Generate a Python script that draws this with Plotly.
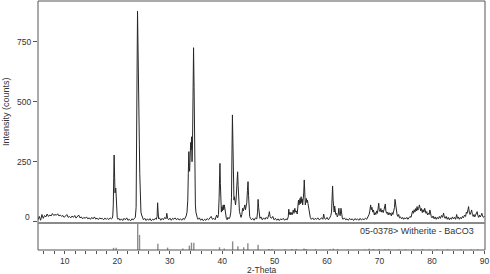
import plotly.graph_objects as go

scan_points = [
    (4.9, 8), (5.15, 22), (5.4, 6), (5.65, 30), (5.9, 14), (6.15, 26), (6.4, 20), (6.65, 32),
    (6.9, 22), (7.15, 28), (7.4, 24), (7.65, 34), (7.9, 26), (8.15, 30), (8.4, 27), (8.65, 33),
    (8.9, 24), (9.15, 28), (9.4, 22), (9.65, 26), (9.9, 18), (10.15, 24), (10.4, 30), (10.65, 18),
    (10.9, 22), (11.15, 16), (11.4, 24), (11.65, 18), (11.9, 26), (12.15, 15), (12.4, 22), (12.65, 28),
    (12.9, 16), (13.15, 20), (13.4, 12), (13.65, 18), (13.9, 14), (14.15, 20), (14.4, 12), (14.65, 16),
    (14.9, 10), (15.15, 18), (15.4, 12), (15.65, 20), (15.9, 11), (16.15, 15), (16.4, 9), (16.65, 16),
    (16.9, 12), (17.15, 14), (17.4, 8), (17.65, 15), (17.9, 10), (18.15, 14), (18.4, 9), (18.65, 16),
    (18.9, 12),
    (19.05, 14), (19.15, 24), (19.25, 70), (19.33, 180), (19.41, 278), (19.5, 190), (19.58, 120),
    (19.66, 135), (19.73, 140), (19.8, 95), (19.9, 40), (20.0, 18), (20.15, 10),
    (20.3, 14), (20.55, 6), (20.8, 12), (21.05, 5), (21.3, 14), (21.55, 8), (21.8, 16), (22.05, 6),
    (22.3, 10), (22.55, 4), (22.8, 12), (23.05, 8), (23.3, 14),
    (23.45, 18), (23.6, 60), (23.7, 240), (23.78, 620), (23.87, 878), (23.95, 700), (24.05, 420),
    (24.15, 330), (24.22, 320), (24.3, 200), (24.4, 90), (24.52, 40), (24.65, 28), (24.8, 20),
    (25.0, 8), (25.25, 14), (25.5, 5), (25.75, 12), (26.0, 6), (26.25, 13), (26.5, 4), (26.75, 10),
    (27.0, 7), (27.25, 14), (27.45, 10),
    (27.6, 22), (27.7, 79), (27.8, 40), (27.9, 12),
    (28.05, 16), (28.3, 6), (28.55, 14), (28.8, 8), (29.05, 18), (29.3, 12), (29.45, 35), (29.6, 14),
    (29.8, 8), (30.05, 15), (30.3, 6), (30.55, 14), (30.8, 10), (31.05, 16), (31.3, 8), (31.55, 14),
    (31.8, 7), (32.05, 12), (32.3, 6), (32.55, 14), (32.8, 9), (33.0, 16), (33.15, 24),
    (33.3, 40), (33.45, 90), (33.55, 200), (33.65, 292), (33.72, 230), (33.8, 210), (33.9, 290),
    (34.0, 330), (34.1, 300), (34.18, 354), (34.26, 250), (34.35, 320), (34.45, 520), (34.55, 725),
    (34.65, 560), (34.75, 300), (34.82, 90), (34.9, 70), (35.0, 40), (35.1, 28), (35.25, 18),
    (35.4, 10), (35.65, 16), (35.9, 6), (36.15, 12), (36.4, 4), (36.65, 10), (36.9, 6), (37.15, 13),
    (37.4, 8), (37.65, 16), (37.9, 22), (38.15, 10), (38.4, 14), (38.65, 8), (38.95, 28), (39.15, 16),
    (39.3, 30),
    (39.42, 100), (39.5, 200), (39.58, 243), (39.66, 160), (39.75, 70), (39.85, 40), (39.95, 62),
    (40.05, 45), (40.2, 70), (40.3, 50), (40.42, 70), (40.55, 49), (40.65, 30), (40.8, 14),
    (40.95, 8), (41.1, 18), (41.3, 12), (41.5, 20), (41.65, 40),
    (41.78, 100), (41.88, 300), (41.96, 445), (42.05, 330), (42.15, 130), (42.25, 90), (42.35, 104),
    (42.45, 80), (42.55, 70), (42.65, 90), (42.75, 130), (42.85, 200), (42.95, 208), (43.05, 150),
    (43.15, 70), (43.3, 42), (43.45, 30), (43.6, 18), (43.75, 30),
    (43.9, 56), (44.05, 45), (44.2, 62), (44.32, 70), (44.45, 50), (44.58, 62), (44.7, 80),
    (44.82, 130), (44.93, 167), (45.03, 110), (45.13, 40), (45.25, 22), (45.4, 14),
    (45.6, 8), (45.85, 14), (46.1, 6), (46.35, 16), (46.6, 12), (46.75, 40), (46.85, 93), (46.95, 60),
    (47.05, 25), (47.2, 14), (47.4, 20), (47.65, 8), (47.9, 16), (48.15, 10), (48.4, 18), (48.65, 12),
    (48.9, 30), (49.0, 42), (49.15, 20), (49.4, 14), (49.65, 22), (49.9, 8), (50.15, 14), (50.4, 6),
    (50.65, 12), (50.9, 5), (51.15, 12), (51.4, 8), (51.65, 14), (51.9, 6), (52.15, 12), (52.4, 8),
    (52.6, 20),
    (52.7, 52), (52.8, 30), (52.95, 40), (53.1, 28), (53.25, 38), (53.4, 30), (53.55, 49), (53.7, 35),
    (53.85, 56), (54.0, 40), (54.15, 45), (54.3, 32), (54.45, 60), (54.55, 90), (54.65, 70),
    (54.75, 85), (54.85, 97), (54.95, 75), (55.05, 104), (55.15, 80), (55.25, 95), (55.35, 70),
    (55.45, 90), (55.55, 120), (55.65, 174), (55.75, 110), (55.85, 70), (55.95, 85), (56.05, 97),
    (56.15, 80), (56.25, 90), (56.35, 77), (56.5, 50), (56.65, 28), (56.8, 18),
    (57.0, 10), (57.25, 16), (57.5, 8), (57.75, 14), (58.0, 10), (58.25, 16), (58.5, 8), (58.75, 12),
    (59.0, 16), (59.2, 10), (59.35, 32), (59.5, 14), (59.75, 10), (60.0, 18), (60.25, 8), (60.45, 14),
    (60.7, 25), (60.85, 40), (60.95, 110), (61.05, 149), (61.15, 90), (61.25, 50), (61.35, 40),
    (61.45, 65), (61.55, 45), (61.65, 30), (61.8, 35), (61.95, 20), (62.1, 28), (62.25, 56),
    (62.35, 30), (62.5, 25), (62.65, 56), (62.75, 35), (62.9, 16), (63.05, 10),
    (63.3, 16), (63.55, 8), (63.8, 12), (64.05, 6), (64.3, 14), (64.55, 8), (64.8, 12), (65.05, 5),
    (65.3, 13), (65.55, 8), (65.8, 12), (66.05, 6), (66.3, 14), (66.55, 7), (66.8, 12), (67.05, 8),
    (67.3, 15), (67.55, 10), (67.8, 20), (68.0, 30), (68.15, 45), (68.3, 70), (68.42, 50), (68.55, 60),
    (68.7, 40), (68.85, 49), (69.0, 28), (69.15, 38), (69.3, 30), (69.45, 45), (69.6, 35), (69.75, 60),
    (69.85, 77), (69.95, 50), (70.1, 42), (70.25, 55), (70.4, 40), (70.55, 48), (70.7, 38), (70.85, 50),
    (71.0, 60), (71.1, 74), (71.2, 45), (71.35, 35), (71.5, 40), (71.65, 28), (71.8, 38), (71.95, 30),
    (72.1, 35), (72.25, 24), (72.4, 38), (72.55, 30), (72.7, 45), (72.85, 60), (72.95, 93), (73.05, 70),
    (73.2, 40), (73.35, 28), (73.5, 22), (73.65, 30), (73.8, 16), (74.0, 20), (74.2, 12), (74.4, 18),
    (74.6, 10), (74.8, 16), (75.0, 12), (75.2, 18), (75.4, 10), (75.6, 16), (75.8, 22), (76.0, 18),
    (76.15, 30), (76.3, 45), (76.45, 35), (76.6, 50), (76.75, 40), (76.9, 55), (77.05, 45), (77.15, 63),
    (77.3, 48), (77.45, 55), (77.6, 70), (77.7, 50), (77.85, 45), (78.0, 55), (78.15, 38), (78.3, 50),
    (78.45, 40), (78.6, 56), (78.72, 42), (78.85, 35), (79.0, 42), (79.15, 28), (79.3, 35), (79.45, 30),
    (79.6, 49), (79.7, 30), (79.85, 22), (80.0, 16), (80.2, 24), (80.4, 12), (80.6, 20), (80.8, 10),
    (81.0, 18), (81.2, 12), (81.4, 22), (81.6, 14), (81.8, 26), (82.0, 18), (82.2, 36), (82.35, 20),
    (82.5, 14), (82.7, 22), (82.9, 10), (83.1, 18), (83.3, 8), (83.5, 16), (83.7, 10), (83.9, 20),
    (84.1, 12), (84.3, 18), (84.5, 10), (84.7, 30), (84.85, 14), (85.0, 20), (85.2, 10), (85.4, 18),
    (85.6, 12), (85.8, 22), (86.0, 16), (86.2, 28), (86.4, 22), (86.55, 40), (86.7, 35), (86.85, 50),
    (86.97, 63), (87.1, 40), (87.25, 30), (87.4, 38), (87.55, 49), (87.7, 30), (87.85, 22), (88.0, 30),
    (88.15, 20), (88.3, 28), (88.45, 35), (88.6, 42), (88.75, 25), (88.9, 18), (89.05, 28), (89.2, 20),
    (89.35, 26), (89.5, 35), (89.65, 22), (89.8, 18), (90.0, 24),
]
two_theta = [p[0] for p in scan_points]
counts = [p[1] for p in scan_points]

# ---- reference stick pattern 05-0378 Witherite (relative intensity) ----
stick_two_theta = [19.3, 19.8, 23.9, 24.25, 27.75, 29.6, 32.5, 33.75, 34.15, 34.6, 39.5, 40.4,
                   42.0, 43.0, 44.1, 44.9, 46.85, 48.9, 49.5, 52.0, 53.3, 54.1, 55.6, 56.0,
                   57.8, 60.6, 61.2, 62.0, 64.0, 67.2, 68.0, 68.8, 69.9, 71.0, 71.7, 73.7,
                   75.0, 76.4, 78.2, 79.5, 81.0, 83.0, 85.5, 87.5, 88.7]
stick_intensity = [8, 8, 100, 56, 23, 9, 6, 16, 27, 27, 10, 6,
                   32, 14, 10, 25, 19, 4, 3, 3, 4, 4, 6, 4,
                   3, 3, 5, 3, 2, 2, 5, 4, 4, 3, 3, 2,
                   2, 3, 3, 2, 2, 2, 2, 2, 2]

y_tick_values = [0, 250, 500, 750]
y_tick_text = ["", "250", "500", "750"]
phase_label = "05-0378> Witherite - BaCO3"
x_title = "2-Theta"
y_title = "Intensity (counts)"

font_family = "Liberation Sans, Arial, sans-serif"
text_color = "#333333"
frame_color = "#555555"
split = 0.1084

stick_x, stick_y = [], []
for t, h in zip(stick_two_theta, stick_intensity):
    stick_x += [t, t, None]
    stick_y += [0, h, None]

fig = go.Figure()
fig.add_trace(go.Scatter(x=two_theta, y=counts, mode="lines",
                         line=dict(color="#262626", width=1.0),
                         xaxis="x2", yaxis="y", hoverinfo="skip", showlegend=False))
fig.add_trace(go.Scatter(x=stick_x, y=stick_y, mode="lines",
                         line=dict(color="#8c8c8c", width=1.4),
                         xaxis="x", yaxis="y2", hoverinfo="skip", showlegend=False))

fig.update_layout(
    width=490, height=274,
    margin=dict(l=38, r=5, t=1, b=24, autoexpand=False),
    paper_bgcolor="white", plot_bgcolor="white",
    font=dict(family=font_family, size=8.5, color=text_color),
    xaxis=dict(domain=[0, 1], anchor="y2", range=[4.9, 90.1], automargin=False,
               tickmode="linear", tick0=10, dtick=10, ticklabeloverflow="allow",
               ticks="outside", ticklen=3, tickcolor=frame_color, tickwidth=1,
               minor=dict(tick0=0, dtick=2, ticks="outside", ticklen=3, tickcolor=frame_color),
               showgrid=False, zeroline=False, showline=False,
               tickfont=dict(size=8.5, color=text_color)),
    xaxis2=dict(domain=[0, 1], anchor="y", matches="x", showticklabels=False, automargin=False,
                ticks="", showgrid=False, zeroline=False, showline=False),
    yaxis=dict(domain=[split, 1], anchor="x2", range=[-5.4, 919.6], automargin=False,
               tickmode="array", tickvals=y_tick_values, ticktext=y_tick_text,
               ticks="outside", ticklen=4, tickcolor=frame_color,
               showgrid=False, zeroline=False, showline=False,
               tickfont=dict(size=8.5, color=text_color)),
    yaxis2=dict(domain=[0, split], anchor="x", range=[0, 100], automargin=False,
                showticklabels=False, ticks="", showgrid=False, zeroline=False, showline=False),
    shapes=[
        dict(type="rect", xref="paper", yref="paper", x0=0, x1=1, y0=0, y1=1,
             line=dict(color=frame_color, width=1), layer="above"),
        dict(type="line", xref="paper", yref="paper", x0=0, x1=1, y0=split, y1=split,
             line=dict(color="#8a8a8a", width=2), layer="above"),
    ],
    annotations=[
        dict(text=phase_label, xref="paper", yref="paper", x=0.98, y=0.0763,
             xanchor="right", yanchor="middle", showarrow=False,
             font=dict(size=9, color=text_color)),
        dict(text="0", xref="paper", yref="paper", x=0, y=0.1313, xshift=-6,
             xanchor="right", yanchor="middle", showarrow=False,
             font=dict(size=8.5, color=text_color)),
        dict(text=x_title, xref="paper", yref="paper", x=(262 - 38) / 447, y=(250 - 269.5) / 249,
             xanchor="center", yanchor="middle", showarrow=False, borderpad=0,
             font=dict(size=8.5, color=text_color)),
        dict(text=y_title, xref="paper", yref="paper", x=(6 - 38) / 447, y=0.554,
             xanchor="center", yanchor="middle", textangle=-90, showarrow=False,
             font=dict(size=9, color=text_color)),
    ],
)

fig.write_html("out.html",
               config={"displayModeBar": False},
               post_script="document.documentElement.style.margin='0';"
                           "document.body.style.margin='0';"
                           "document.body.style.overflow='hidden';")
